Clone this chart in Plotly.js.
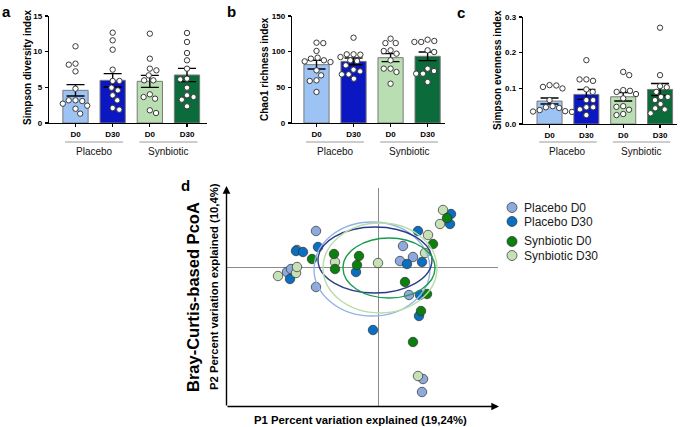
<!DOCTYPE html>
<html><head><meta charset="utf-8">
<script src="https://cdn.plot.ly/plotly-3.0.1.min.js"></script>
<style>html,body{margin:0;padding:0;background:#fff}#chart{width:685px;height:427px}</style>
</head><body><div id="chart"></div>
<script>
// ---------- DATA ----------
const tickDays = ['D0', 'D30', 'D0', 'D30'];
const groupNames = ['Placebo', 'Synbiotic'];

const simpsonMean = [4.58, 5.98, 5.84, 6.73];
const simpsonSem = [0.80, 0.94, 0.84, 0.93];
const simpsonPlaceboD0 = [10.75, 8.18, 8.32, 7.24, 4.81, 3.18, 2.71, 2.0, 3.08, 3.18, 2.43, 1.31];
const simpsonPlaceboD30 = [12.66, 11.59, 10.28, 7.48, 5.89, 5.89, 4.58, 4.95, 3.88, 3.18, 1.87, 2.10];
const simpsonSynD0 = [12.52, 9.02, 7.62, 7.38, 6.68, 5.98, 5.98, 3.41, 4.02, 3.64, 1.40, 1.78];
const simpsonSynD30 = [12.62, 11.36, 9.81, 8.79, 7.62, 6.12, 6.21, 4.95, 3.88, 3.64, 3.27, 2.34];

const chaoMean = [81.8, 86.4, 91.6, 93.5];
const chaoSem = [6.1, 4.7, 5.6, 6.0];
const chaoPlaceboD0 = [112, 112.6, 101, 91.6, 87.9, 90.2, 86.4, 85.5, 73.8, 66.8, 59.8, 58.9, 43.5];
const chaoPlaceboD30 = [119.6, 96.3, 95.8, 96.3, 92.5, 87.9, 86.9, 80.8, 72.4, 74.8, 68.2, 68.2, 62.1];
const chaoSynD0 = [112, 118.2, 112, 101.9, 100.9, 97.2, 87.9, 76.2, 76.2, 71.5, 55.1];
const chaoSynD30 = [113.6, 116.8, 115, 113.6, 101.9, 99.5, 76.2, 69.2, 72.9, 57.5, 69.2];

const evenMean = [0.0643, 0.083, 0.0764, 0.0969];
const evenSem = [0.0084, 0.0139, 0.0121, 0.0168];
const evenPlaceboD0 = [0.0997, 0.108, 0.104, 0.109, 0.067, 0.050, 0.047, 0.039, 0.034, 0.035, 0.045, 0.036];
const evenPlaceboD30 = [0.179, 0.121, 0.125, 0.125, 0.090, 0.097, 0.067, 0.041, 0.047, 0.047, 0.025, 0.067];
const evenSynD0 = [0.137, 0.146, 0.095, 0.093, 0.084, 0.090, 0.072, 0.048, 0.050, 0.025, 0.028, 0.040];
const evenSynD30 = [0.270, 0.137, 0.106, 0.103, 0.076, 0.076, 0.056, 0.044, 0.041, 0.030, 0.067, 0.090];

// PCoA coordinates (P1, P2)
const pcoaNames = ['Placebo D0', 'Placebo D30', 'Synbiotic D0', 'Synbiotic D30'];
const placeboD0_P1 = [-0.62, -0.81, -0.91, -0.87, -0.62, 0.25, 0.35, 0.22, 0.31, 0.45, 0.44];
const placeboD0_P2 = [0.36, 0.17, -0.05, -0.02, -0.20, 0.21, 0.10, 0.06, -0.28, -1.12, -1.25];
const placeboD30_P1 = [-0.82, -0.75, -0.60, -0.88, -0.22, -0.05, 0.73, 0.72, 0.40, 0.29, 0.44, 0.42, 0.41];
const placeboD30_P2 = [0.16, 0.15, 0.20, -0.12, -0.05, -0.63, 0.53, 0.43, 0.36, 0.03, 0.05, -0.28, -0.49];
const synD30_P1 = [-1.00, -0.82, -0.81, -0.43, 0.00, 0.65, 0.62, 0.50, 0.47, 0.40];
const synD30_P2 = [-0.09, -0.06, 0.00, 0.05, 0.04, 0.57, 0.43, 0.32, 0.14, -1.09];
const synD0_P1 = [-0.66, -0.44, -0.43, -0.19, -0.21, 0.69, 0.55, 0.27, 0.49, 0.43, 0.35];
const synD0_P2 = [0.08, 0.13, -0.02, 0.11, 0.02, 0.49, 0.23, -0.15, -0.27, -0.44, -0.75];
// ellipses: centre and radii (P1, P2)
const ellipseCx = [-0.06, -0.03, 0.11, 0.02];
const ellipseCy = [-0.02, 0.07, -0.01, -0.01];
const ellipseRx = [0.58, 0.57, 0.46, 0.57];
const ellipseRy = [0.47, 0.33, 0.30, 0.45];

// ---------- STYLE / LAYOUT ----------
const W = 685, H = 427;
const px = v => v / W, py = v => 1 - v / H;
const FONT = 'Arial, "Liberation Sans", sans-serif';
const barColors = ['#9cc3f3', '#0a17c2', '#b9deb2', '#0b6b3b'];
const markColors = ['#8eaadc', '#0a6fc0', '#0b800f', '#c6e1b6'];
const ellColors = ['#93b3e6', '#2a3c88', '#1a9a4c', '#b7dca8'];

function swarm(vals, pxPerY, D) {
  const idx = vals.map((v, i) => i).sort((a, b) => vals[b] - vals[a]);
  const placed = [], off = new Array(vals.length);
  let flip = 1;
  for (const i of idx) {
    const y = vals[i] * pxPerY;
    const near = placed.filter(p => Math.abs(p.y - y) < D);
    const cands = [0];
    near.forEach(p => { const w = Math.sqrt(D * D - (p.y - y) ** 2); cands.push(p.x - w, p.x + w); });
    cands.sort((a, b) => Math.abs(a) - Math.abs(b) || (flip * (a - b)));
    let chosen = 0;
    for (const c of cands) {
      if (near.every(p => (p.x - c) ** 2 + (p.y - y) ** 2 >= D * D - 1e-6)) { chosen = c; break; }
    }
    flip = -flip;
    placed.push({ x: chosen, y }); off[i] = chosen;
  }
  return off;
}

const traces = [];
const shapes = [];
const annotations = [];

const panels = [
  { ax: '', mean: simpsonMean, sem: simpsonSem, pts: [simpsonPlaceboD0, simpsonPlaceboD30, simpsonSynD0, simpsonSynD30],
    xd: [49, 207], yd: [16, 123], yr: [0, 15], dt: 5, title: 'Simpson diversity index', tx: 28, ty: 68, letter: 'a', lx: 6, ly: 11, pxu: 37.17 },
  { ax: '2', mean: chaoMean, sem: chaoSem, pts: [chaoPlaceboD0, chaoPlaceboD30, chaoSynD0, chaoSynD30],
    xd: [292, 445], yd: [16, 123], yr: [0, 150], dt: 50, title: 'Chao1 richness index', tx: 265, ty: 69, letter: 'b', lx: 231, ly: 11, pxu: 37 },
  { ax: '3', mean: evenMean, sem: evenSem, pts: [evenPlaceboD0, evenPlaceboD30, evenSynD0, evenSynD30],
    xd: [523, 677], yd: [17, 124], yr: [0, 0.3], dt: 0.1, title: 'Simpson evenness index', tx: 498, ty: 70, letter: 'c', lx: 461, ly: 12, pxu: 36.8 }
];
const xRanges = [[-0.713, 3.538], [-0.662, 3.47], [-0.72, 3.46]];

const layout = {
  width: W, height: H, margin: { l: 0, r: 0, t: 0, b: 0 },
  paper_bgcolor: '#fff', plot_bgcolor: 'rgba(0,0,0,0)', showlegend: false,
  font: { family: FONT, color: '#000' }
};

function note(o) { return Object.assign({ xref: 'paper', yref: 'paper', showarrow: false, xanchor: 'center', yanchor: 'middle' }, o); }

panels.forEach((p, k) => {
  const xa = 'x' + p.ax, ya = 'y' + p.ax;
  const pxPerY = (p.yd[1] - p.yd[0]) / (p.yr[1] - p.yr[0]);
  traces.push({
    type: 'bar', x: [0, 1, 2, 3], y: p.mean, width: 0.68, xaxis: xa, yaxis: ya,
    marker: { color: barColors, line: { color: '#7a7a7a', width: 1 } },
    error_y: { type: 'data', array: p.sem, visible: true, color: '#000', thickness: 1.4, width: 9 },
    hoverinfo: 'skip'
  });
  p.pts.forEach((vals, g) => {
    const off = swarm(vals, pxPerY, 6.8);
    traces.push({
      type: 'scatter', mode: 'markers', x: off.map(o => g + o / p.pxu), y: vals, xaxis: xa, yaxis: ya,
      marker: { size: 5.4, color: '#fff', line: { color: '#3a3a3a', width: 1 } }, hoverinfo: 'skip', cliponaxis: false
    });
  });
  layout['xaxis' + p.ax] = {
    domain: [px(p.xd[0]), px(p.xd[1])], range: xRanges[k], anchor: ya,
    tickvals: [0, 1, 2, 3], ticktext: tickDays, ticks: 'outside', ticklen: 3, tickwidth: 1.3, tickcolor: '#000',
    showline: true, linecolor: '#000', linewidth: 1.3, showgrid: false, zeroline: false, fixedrange: true,
    tickfont: { family: FONT, size: 8, weight: 'bold', color: '#000' }
  };
  layout['yaxis' + p.ax] = {
    domain: [py(p.yd[1]), py(p.yd[0])], range: p.yr, anchor: xa, dtick: p.dt, tick0: 0,
    ticks: 'outside', ticklen: 3, tickwidth: 1.3, tickcolor: '#000', ticklabelstandoff: 1,
    showline: true, linecolor: '#000', linewidth: 1.3, showgrid: false, zeroline: false, fixedrange: true,
    tickformat: p.dt < 1 ? '.1f' : 'd',
    tickfont: { family: FONT, size: 8, weight: 'bold', color: '#000' }
  };
  groupNames.forEach((gname, gi) => {
    const c = gi * 2 + 0.5;
    shapes.push({ type: 'line', xref: xa, yref: 'paper', x0: c - 0.78, x1: c + 0.78, y0: py(142), y1: py(142),
      line: { color: '#9a9a9a', width: 1 } });
    annotations.push({ xref: xa, yref: 'paper', x: c, y: py(151.5), text: gname, showarrow: false,
      font: { family: FONT, size: 10, color: '#111' }, xanchor: 'center', yanchor: 'middle' });
  });
  annotations.push(note({ x: px(p.tx), y: py(p.ty), text: p.title, textangle: -90,
    font: { family: FONT, size: 10, weight: 'bold', color: '#000' } }));
  annotations.push(note({ x: px(p.lx), y: py(p.ly), text: p.letter,
    font: { family: FONT, size: 15, weight: 'bold', color: '#000' } }));
});

// ---------- PANEL d ----------
const pcoaX = [placeboD0_P1, placeboD30_P1, synD0_P1, synD30_P1];
const pcoaY = [placeboD0_P2, placeboD30_P2, synD0_P2, synD30_P2];
const drawOrder = [0, 1, 3, 2];
drawOrder.forEach(g => {
  traces.push({
    type: 'scatter', mode: 'markers', x: pcoaX[g], y: pcoaY[g], xaxis: 'x4', yaxis: 'y4', name: pcoaNames[g],
    marker: { size: 9.5, color: markColors[g], line: { color: '#2e2e2e', width: 0.7 } }, hoverinfo: 'skip', cliponaxis: false
  });
});
ellipseCx.forEach((cx, g) => {
  shapes.push({ type: 'circle', xref: 'x4', yref: 'y4', x0: cx - ellipseRx[g], x1: cx + ellipseRx[g],
    y0: ellipseCy[g] - ellipseRy[g], y1: ellipseCy[g] + ellipseRy[g], line: { color: ellColors[g], width: 1.4 } });
});
layout.xaxis4 = { domain: [px(226), px(498)], range: [-1.52, 1.20], anchor: 'y4', showline: false, showgrid: false,
  showticklabels: false, ticks: '', zeroline: true, zerolinecolor: '#8a8a8a', zerolinewidth: 1, fixedrange: true };
layout.yaxis4 = { domain: [py(406), py(188)], range: [-1.39, 0.79], anchor: 'x4', showline: false, showgrid: false,
  showticklabels: false, ticks: '', zeroline: true, zerolinecolor: '#8a8a8a', zerolinewidth: 1, fixedrange: true };

annotations.push({ xref: 'paper', yref: 'paper', x: px(499), y: py(406.5), ax: -273, ay: 0, text: '', showarrow: true,
  arrowhead: 2, arrowsize: 1.1, arrowwidth: 1.4, arrowcolor: '#000' });
annotations.push({ xref: 'paper', yref: 'paper', x: px(226.5), y: py(186), ax: 0, ay: 221, text: '', showarrow: true,
  arrowhead: 2, arrowsize: 1.1, arrowwidth: 1.4, arrowcolor: '#000' });
annotations.push(note({ x: px(193), y: py(297), text: 'Bray-Curtis-based PcoA', textangle: -90,
  font: { family: FONT, size: 16.5, weight: 'bold', color: '#000' } }));
annotations.push(note({ x: px(214), y: py(287), text: 'P2 Percent variation explained (10,4%)', textangle: -90,
  font: { family: FONT, size: 11.3, weight: 'bold', color: '#000' } }));
annotations.push(note({ x: px(361), y: py(420), text: 'P1 Percent variation explained (19,24%)',
  font: { family: FONT, size: 11.3, weight: 'bold', color: '#000' } }));
annotations.push(note({ x: px(185), y: py(185), text: 'd',
  font: { family: FONT, size: 15, weight: 'bold', color: '#000' } }));

pcoaNames.forEach((name, i) => {
  const yy = 207.5 + i * 14 + (i >= 2 ? 6 : 0);
  shapes.push({ type: 'circle', xref: 'paper', yref: 'paper', xsizemode: 'pixel', ysizemode: 'pixel',
    xanchor: px(512), yanchor: py(yy), x0: -5, x1: 5, y0: -5, y1: 5,
    fillcolor: markColors[i], line: { color: '#2e2e2e', width: 0.7 } });
  annotations.push(note({ x: px(522), y: py(yy), text: name, xanchor: 'left',
    font: { family: FONT, size: 12, color: '#1a1a1a' } }));
});

layout.shapes = shapes;
layout.annotations = annotations;
Plotly.newPlot('chart', traces, layout, { displayModeBar: false, staticPlot: true });
</script></body></html>
